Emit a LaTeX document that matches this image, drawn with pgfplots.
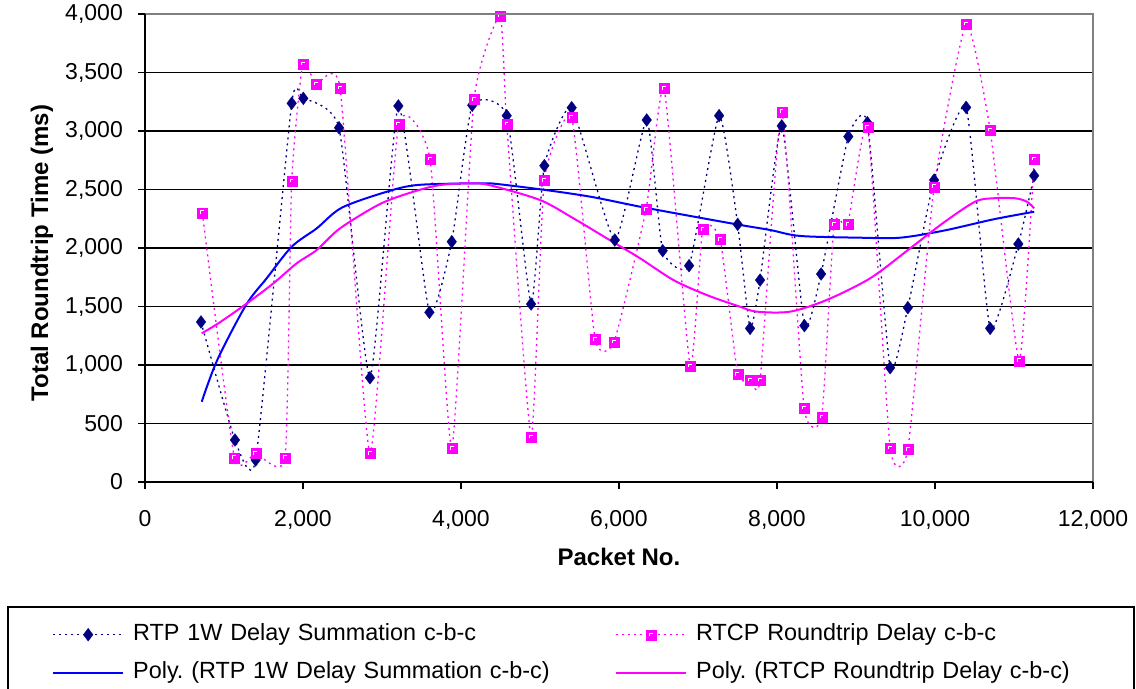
\documentclass[border=0pt]{standalone}
\usepackage{pgfplots}
\usepackage{pgfplotstable}
\pgfplotsset{compat=1.18}
\usepackage{fontspec}
\setmainfont{Liberation Sans}
\definecolor{navy}{RGB}{0,0,128}
\definecolor{mag}{RGB}{255,0,255}
\definecolor{blu}{RGB}{0,0,255}
\definecolor{bordergray}{RGB}{128,128,128}

\pgfdeclareplotmark{excelsq}{%
  \pgfpathrectangle{\pgfpoint{-\pgfplotmarksize}{-\pgfplotmarksize}}{\pgfpoint{2\pgfplotmarksize}{2\pgfplotmarksize}}%
  \pgfusepathqfillstroke
  \begin{pgfscope}
  \pgfsetstrokecolor{white}\pgfsetlinewidth{0.9bp}%
  \pgfpathmoveto{\pgfpoint{-0.35\pgfplotmarksize}{-0.3\pgfplotmarksize}}%
  \pgfpathlineto{\pgfpoint{-0.35\pgfplotmarksize}{0.35\pgfplotmarksize}}%
  \pgfpathlineto{\pgfpoint{0.35\pgfplotmarksize}{0.35\pgfplotmarksize}}%
  \pgfusepathqstroke
  \end{pgfscope}%
}

\pgfplotstableread{
x y
709 1368
1139 359
1401 188
1857 3237
2004 3279
2456 3028
2848 891
3207 3214
3600 1450
3883 2054
4142 3220
4579 3131
4887 1521
5055 2704
5401 3199
5947 2068
6351 3094
6553 1977
6887 1849
7267 3131
7502 2202
7659 1313
7786 1726
8060 3043
8347 1336
8558 1778
8903 2952
9144 3071
9432 977
9656 1490
9989 2581
10394 3202
10698 1313
11055 2034
11255 2618
}\rtp

\pgfplotstableread{
x y
726 2302
1131 208
1401 245
1772 208
1857 2573
1997 3573
2165 3402
2469 3370
2848 245
3211 3060
3608 2761
3883 288
4165 3271
4494 3983
4579 3060
4887 387
5055 2581
5401 3117
5697 1222
5938 1199
6343 2333
6571 3365
6900 994
7060 2160
7280 2074
7502 923
7659 872
7786 872
8060 3165
8343 635
8566 558
8723 2205
8895 2205
9148 3031
9432 293
9656 279
9989 2524
10394 3915
10698 3009
11065 1037
11255 2761
}\rtcp

\pgfplotstableread{
x y
718 686
915 1043
1279 1513
1540 1741
1857 2011
2174 2168
2490 2344
3060 2481
3440 2538
4115 2553
4368 2553
5000 2502
5634 2439
6267 2353
6900 2274
7533 2197
7913 2154
8292 2103
9052 2088
9558 2088
10107 2148
10740 2245
11255 2310
}\polyrtp

\pgfplotstableread{
x y
718 1271
928 1356
1279 1521
1625 1698
1920 1869
2174 1983
2469 2168
2975 2376
3397 2481
3735 2538
4115 2553
4368 2536
5000 2410
5422 2254
5845 2083
6267 1912
6689 1726
7111 1598
7533 1498
7744 1456
8166 1456
8630 1556
9179 1741
9685 1997
10107 2216
10508 2396
10740 2425
11014 2425
11162 2396
11255 2339
}\polyrtcp

\begin{document}
\begin{tikzpicture}
\begin{axis}[
  name=ax,
  scale only axis, width=948bp, height=468bp,
  xmin=0, xmax=12000, ymin=0, ymax=4000,
  xtick={0,2000,...,12000}, ytick={0,500,...,4000},
  scaled x ticks=false, scaled y ticks=false,
  tick align=outside, tick pos=left,
  major tick length=7bp,
  major tick style={black, line width=1.5bp},
  axis line style={draw=none},
  ymajorgrids, major grid style={black, line width=1.1bp},
  /pgf/number format/1000 sep={,},
  /pgf/number format/assume math mode=true,
  tick label style={font=\fontsize{23bp}{27bp}\selectfont},
  yticklabel style={anchor=east, inner sep=0pt, xshift=-15bp},
  xticklabel style={anchor=north, inner sep=0pt, yshift=-21bp},
  label style={font=\fontsize{24bp}{28bp}\selectfont\bfseries},
  xlabel={Packet No.},
  ylabel={Total Roundtrip Time (ms)},
  xlabel style={at={(axis description cs:0.5,-0.1603)}, anchor=center},
  ylabel style={at={(axis description cs:-0.1087,0.489)}, anchor=center},
  legend columns=2,
  legend image code/.code={\draw[mark repeat=2,mark phase=2,#1] plot coordinates {(0bp,0bp) (35bp,0bp) (70bp,0bp)};},
  legend style={draw=none, fill=none, inner sep=0pt,
    at={(axis description cs:-0.0981,-0.3013)}, anchor=north west,
    font=\fontsize{23.4bp}{27bp}\selectfont,
    column sep=9bp, row sep=15bp,
    /tikz/every even column/.append style={column sep=32bp},
    nodes={inner sep=0pt, text height=17bp, text depth=6bp, text width=450bp, align=left}},
]
\addplot[navy, line width=1.3bp, dash pattern=on 2bp off 4bp, smooth, tension=0.3,
  mark=diamond*, mark size=6.5bp, mark options={solid, fill=navy, draw=navy, line width=0.2bp}]
  table {\rtp};
\addlegendentry{RTP 1W Delay Summation c-b-c}
\addplot[mag, line width=1.3bp, dash pattern=on 2bp off 4bp, smooth, tension=0.3,
  mark=excelsq, mark size=5bp, mark options={solid, fill=mag, draw=mag, line width=0.2bp}]
  table {\rtcp};
\addlegendentry{RTCP Roundtrip Delay c-b-c}
\addplot[blu, line width=2bp, smooth, no marks] table {\polyrtp};
\addlegendentry{Poly.\ (RTP 1W Delay Summation c-b-c)}
\addplot[mag, line width=2bp, smooth, no marks] table {\polyrtcp};
\addlegendentry{Poly.\ (RTCP Roundtrip Delay c-b-c)}
\end{axis}
\draw[bordergray, line width=1.6bp] (ax.north west) -- (ax.north east) -- (ax.south east);
\draw[black, line width=1.6bp] (ax.north west) -- (ax.south west) -- (ax.south east);
\draw[black, line width=1.3bp] (-137bp,-125bp) rectangle (989bp,-240bp);
\pgfresetboundingbox
\path[use as bounding box] (-145bp,-207bp) rectangle (991bp,482bp);
\end{tikzpicture}
\end{document}
